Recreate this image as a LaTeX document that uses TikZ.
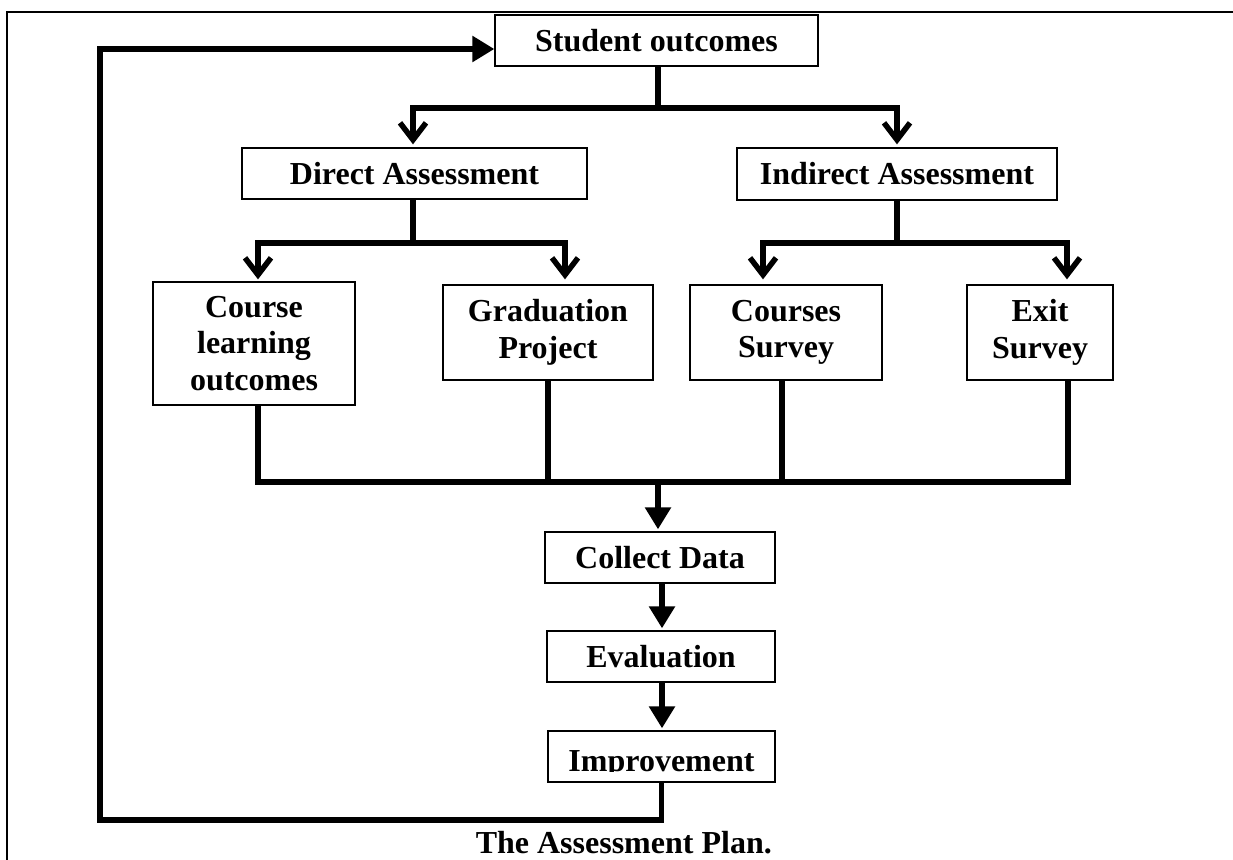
\documentclass[tikz,border=0pt]{standalone}
\usepackage{fontspec}
\setmainfont{Liberation Serif}
\usetikzlibrary{arrows.meta}
\tikzset{
  box/.style={draw, line width=1.3pt, fill=white, inner sep=0pt, align=center,
    font=\bfseries\fontsize{32}{36.5}\selectfont},
  conn/.style={line width=5.5pt},
  barb/.style={-{Straight Barb[length=17pt,width=26pt]}},
  tri/.style={-{Triangle[length=22pt,width=25pt]}},
  frame/.style={line width=2.5pt},
  lbl/.style={inner sep=0pt, font=\bfseries\fontsize{32}{36.5}\selectfont}
}
\begin{document}
\begin{tikzpicture}[x=1pt,y=-1pt]
\useasboundingbox (0,0) rectangle (1233,859);
% outer frame
\draw[frame] (7,870) -- (7,12) -- (1245,12);

% boxes
\node[box, minimum width=323pt, minimum height=51pt] (so) at (656.5,40.5) {Student outcomes};
\node[box, minimum width=345pt, minimum height=51pt] (da) at (414.5,173.5) {Direct Assessment};
\node[box, minimum width=320pt, minimum height=52pt] (ia) at (897,174) {Indirect Assessment};
\node[box, minimum width=202pt, minimum height=123pt] (clo) at (254,343.5) {Course\\learning\\outcomes};
\node[box, minimum width=210pt, minimum height=95pt] (gp) at (548,332.5) {Graduation\\Project};
\node[box, minimum width=192pt, minimum height=95pt] (cs) at (786,332.5) {Courses\\Survey};
\node[box, minimum width=146pt, minimum height=95pt] (es) at (1040,332.5) {Exit\\Survey};
\node[box, minimum width=230pt, minimum height=51pt] (cd) at (660,557.5) {Collect Data};
\node[box, minimum width=228pt, minimum height=51pt] (ev) at (661,656.5) {Evaluation};
\node[box, minimum width=227pt, minimum height=51pt] (im) at (661.5,756.5) {};
\begin{scope}
  \clip ([yshift=11pt]im.south west) rectangle (im.north east);
  \node[lbl, anchor=base] (imtext) at ([yshift=11.5pt]im.south) {Improvement};
\end{scope}

% caption
\node[lbl, anchor=base east] (cap) at (772,853) {The Assessment Plan.};

% first level
\coordinate (j1) at (658,108);
\draw[conn] (so.south -| j1) -- (j1);
\draw[conn,barb] (j1) -| ([xshift=-1.5pt,yshift=3pt]da.north);
\draw[conn,barb] (j1) -| ([yshift=3pt]ia.north);

% second level - direct
\coordinate (j2) at (413,243);
\draw[conn] (da.south -| j2) -- (j2);
\draw[conn,barb] (j2) -| ([xshift=4pt,yshift=2pt]clo.north);
\draw[conn,barb] (j2) -| ([xshift=17pt,yshift=5pt]gp.north);

% second level - indirect
\coordinate (j3) at (897,243);
\draw[conn] (ia.south) -- (j3);
\draw[conn,barb] (j3) -| ([xshift=-23pt,yshift=5pt]cs.north);
\draw[conn,barb] (j3) -| ([xshift=27pt,yshift=5pt]es.north);

% collecting line
\coordinate (bl) at (258,482);
\coordinate (br) at (1068,482);
\draw[conn] ([xshift=4pt]clo.south) -- (bl) -- (br) -- (br |- es.south);
\draw[conn] (gp.south) -- (gp.south |- bl);
\draw[conn] ([xshift=-4pt]cs.south) -- ([xshift=-4pt]cs.south |- bl);
\draw[conn,tri] ([xshift=-2pt]cd.north |- bl) -- ([xshift=-2pt,yshift=2pt]cd.north);

% chain
\draw[conn,tri] ([xshift=2pt]cd.south) -- ([xshift=1pt,yshift=2pt]ev.north);
\draw[conn,tri] ([xshift=1pt]ev.south) -- ([xshift=0.5pt,yshift=2pt]im.north);

% feedback loop
\coordinate (fb) at (100,820);
\draw[conn,tri] (im.south) |- (fb) |- ([yshift=-8.5pt]so.west);
\end{tikzpicture}
\end{document}
